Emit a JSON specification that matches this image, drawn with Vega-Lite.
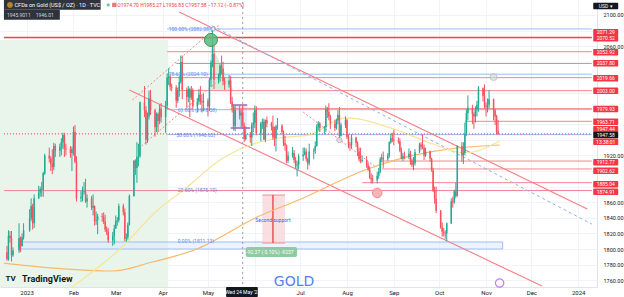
{
"$schema":"https://vega.github.io/schema/vega-lite/v6.json",
"width":597,"height":287,"padding":{"left":0,"top":0,"right":27,"bottom":10},"autosize":{"type":"none"},
"background":"#ffffff",
"config":{"view":{"stroke":null},"font":"Roboto"},
"datasets":{
"candles":[
{"d":"2022-12-19","o":1796,"h":1804,"l":1785,"c":1787},
{"d":"2022-12-20","o":1787,"h":1824,"l":1785,"c":1817},
{"d":"2022-12-21","o":1817,"h":1823,"l":1808,"c":1814},
{"d":"2022-12-22","o":1814,"h":1823,"l":1784,"c":1792},
{"d":"2022-12-23","o":1792,"h":1802,"l":1790,"c":1798},
{"d":"2022-12-27","o":1798,"h":1833,"l":1795,"c":1814},
{"d":"2022-12-28","o":1814,"h":1816,"l":1796,"c":1804},
{"d":"2022-12-29","o":1804,"h":1820,"l":1803,"c":1815},
{"d":"2022-12-30","o":1815,"h":1833,"l":1812,"c":1824},
{"d":"2023-01-03","o":1824,"h":1851,"l":1822,"c":1839},
{"d":"2023-01-04","o":1839,"h":1865,"l":1836,"c":1855},
{"d":"2023-01-05","o":1855,"h":1858,"l":1825,"c":1833},
{"d":"2023-01-06","o":1833,"h":1870,"l":1827,"c":1865},
{"d":"2023-01-09","o":1865,"h":1881,"l":1864,"c":1872},
{"d":"2023-01-10","o":1872,"h":1880,"l":1867,"c":1877},
{"d":"2023-01-11","o":1877,"h":1886,"l":1867,"c":1876},
{"d":"2023-01-12","o":1876,"h":1899,"l":1867,"c":1897},
{"d":"2023-01-13","o":1897,"h":1922,"l":1895,"c":1920},
{"d":"2023-01-16","o":1920,"h":1930,"l":1911,"c":1916},
{"d":"2023-01-17","o":1916,"h":1919,"l":1900,"c":1909},
{"d":"2023-01-18","o":1909,"h":1928,"l":1896,"c":1905},
{"d":"2023-01-19","o":1905,"h":1936,"l":1901,"c":1932},
{"d":"2023-01-20","o":1932,"h":1935,"l":1918,"c":1926},
{"d":"2023-01-23","o":1926,"h":1935,"l":1918,"c":1931},
{"d":"2023-01-24","o":1931,"h":1942,"l":1920,"c":1937},
{"d":"2023-01-25","o":1937,"h":1949,"l":1928,"c":1946},
{"d":"2023-01-26","o":1946,"h":1949,"l":1918,"c":1929},
{"d":"2023-01-27","o":1929,"h":1935,"l":1920,"c":1928},
{"d":"2023-01-30","o":1928,"h":1932,"l":1917,"c":1923},
{"d":"2023-01-31","o":1923,"h":1931,"l":1900,"c":1928},
{"d":"2023-02-01","o":1928,"h":1957,"l":1920,"c":1950},
{"d":"2023-02-02","o":1950,"h":1959,"l":1910,"c":1912},
{"d":"2023-02-03","o":1912,"h":1919,"l":1861,"c":1865},
{"d":"2023-02-06","o":1865,"h":1875,"l":1860,"c":1867},
{"d":"2023-02-07","o":1867,"h":1880,"l":1861,"c":1873},
{"d":"2023-02-08","o":1873,"h":1886,"l":1870,"c":1874},
{"d":"2023-02-09","o":1874,"h":1890,"l":1859,"c":1861},
{"d":"2023-02-10","o":1861,"h":1870,"l":1853,"c":1865},
{"d":"2023-02-13","o":1865,"h":1868,"l":1850,"c":1853},
{"d":"2023-02-14","o":1853,"h":1870,"l":1843,"c":1855},
{"d":"2023-02-15","o":1855,"h":1856,"l":1830,"c":1836},
{"d":"2023-02-16","o":1836,"h":1848,"l":1831,"c":1837},
{"d":"2023-02-17","o":1837,"h":1845,"l":1819,"c":1842},
{"d":"2023-02-20","o":1842,"h":1846,"l":1835,"c":1841},
{"d":"2023-02-21","o":1841,"h":1847,"l":1832,"c":1835},
{"d":"2023-02-22","o":1835,"h":1844,"l":1822,"c":1825},
{"d":"2023-02-23","o":1825,"h":1829,"l":1818,"c":1822},
{"d":"2023-02-24","o":1822,"h":1827,"l":1808,"c":1811},
{"d":"2023-02-27","o":1811,"h":1822,"l":1804,"c":1817},
{"d":"2023-02-28","o":1817,"h":1831,"l":1806,"c":1826},
{"d":"2023-03-01","o":1826,"h":1843,"l":1826,"c":1836},
{"d":"2023-03-02","o":1836,"h":1841,"l":1830,"c":1837},
{"d":"2023-03-03","o":1837,"h":1858,"l":1834,"c":1855},
{"d":"2023-03-06","o":1855,"h":1858,"l":1843,"c":1847},
{"d":"2023-03-07","o":1847,"h":1852,"l":1810,"c":1813},
{"d":"2023-03-08","o":1813,"h":1820,"l":1809,"c":1815},
{"d":"2023-03-09","o":1815,"h":1834,"l":1812,"c":1831},
{"d":"2023-03-10","o":1831,"h":1870,"l":1830,"c":1868},
{"d":"2023-03-13","o":1868,"h":1914,"l":1867,"c":1913},
{"d":"2023-03-14","o":1913,"h":1915,"l":1895,"c":1904},
{"d":"2023-03-15","o":1904,"h":1937,"l":1885,"c":1918},
{"d":"2023-03-16","o":1918,"h":1935,"l":1906,"c":1919},
{"d":"2023-03-17","o":1919,"h":1989,"l":1917,"c":1988},
{"d":"2023-03-20","o":1988,"h":2009,"l":1969,"c":1978},
{"d":"2023-03-21","o":1978,"h":1983,"l":1934,"c":1940},
{"d":"2023-03-22","o":1940,"h":1975,"l":1936,"c":1970},
{"d":"2023-03-23","o":1970,"h":2003,"l":1966,"c":1993},
{"d":"2023-03-24","o":1993,"h":2004,"l":1972,"c":1978},
{"d":"2023-03-27","o":1978,"h":1980,"l":1944,"c":1956},
{"d":"2023-03-28","o":1956,"h":1975,"l":1950,"c":1973},
{"d":"2023-03-29","o":1973,"h":1975,"l":1950,"c":1964},
{"d":"2023-03-30","o":1964,"h":1985,"l":1960,"c":1980},
{"d":"2023-03-31","o":1980,"h":1987,"l":1962,"c":1969},
{"d":"2023-04-03","o":1969,"h":1990,"l":1949,"c":1984},
{"d":"2023-04-04","o":1984,"h":2025,"l":1979,"c":2020},
{"d":"2023-04-05","o":2020,"h":2032,"l":2010,"c":2021},
{"d":"2023-04-06","o":2021,"h":2023,"l":2003,"c":2008},
{"d":"2023-04-07","o":2008,"h":2012,"l":2002,"c":2007},
{"d":"2023-04-10","o":2007,"h":2010,"l":1981,"c":1990},
{"d":"2023-04-11","o":1990,"h":2007,"l":1987,"c":2003},
{"d":"2023-04-12","o":2003,"h":2022,"l":1995,"c":2014},
{"d":"2023-04-13","o":2014,"h":2048,"l":2012,"c":2040},
{"d":"2023-04-14","o":2040,"h":2048,"l":1992,"c":2004},
{"d":"2023-04-17","o":2004,"h":2007,"l":1981,"c":1995},
{"d":"2023-04-18","o":1995,"h":2009,"l":1988,"c":2005},
{"d":"2023-04-19","o":2005,"h":2007,"l":1969,"c":1994},
{"d":"2023-04-20","o":1994,"h":2009,"l":1991,"c":2004},
{"d":"2023-04-21","o":2004,"h":2006,"l":1979,"c":1983},
{"d":"2023-04-24","o":1983,"h":1993,"l":1975,"c":1989},
{"d":"2023-04-25","o":1989,"h":2005,"l":1985,"c":1998},
{"d":"2023-04-26","o":1998,"h":2009,"l":1985,"c":1989},
{"d":"2023-04-27","o":1989,"h":1998,"l":1975,"c":1988},
{"d":"2023-04-28","o":1988,"h":1999,"l":1977,"c":1990},
{"d":"2023-05-01","o":1990,"h":1993,"l":1970,"c":1983},
{"d":"2023-05-02","o":1983,"h":2019,"l":1977,"c":2017},
{"d":"2023-05-03","o":2017,"h":2042,"l":2008,"c":2039},
{"d":"2023-05-04","o":2039,"h":2082,"l":2033,"c":2050},
{"d":"2023-05-05","o":2050,"h":2062,"l":2005,"c":2017},
{"d":"2023-05-08","o":2017,"h":2025,"l":2012,"c":2021},
{"d":"2023-05-09","o":2021,"h":2037,"l":2014,"c":2035},
{"d":"2023-05-10","o":2035,"h":2048,"l":2024,"c":2031},
{"d":"2023-05-11","o":2031,"h":2040,"l":2010,"c":2015},
{"d":"2023-05-12","o":2015,"h":2020,"l":2004,"c":2011},
{"d":"2023-05-15","o":2011,"h":2023,"l":2007,"c":2016},
{"d":"2023-05-16","o":2016,"h":2022,"l":1986,"c":1989},
{"d":"2023-05-17","o":1989,"h":1995,"l":1975,"c":1982},
{"d":"2023-05-18","o":1982,"h":1985,"l":1952,"c":1958},
{"d":"2023-05-19","o":1958,"h":1984,"l":1951,"c":1978},
{"d":"2023-05-22","o":1978,"h":1984,"l":1966,"c":1971},
{"d":"2023-05-23","o":1971,"h":1979,"l":1956,"c":1974.7},
{"d":"2023-05-24","o":1974.7,"h":1985.27,"l":1956.83,"c":1957.58},
{"d":"2023-05-25","o":1957.58,"h":1962,"l":1937,"c":1941},
{"d":"2023-05-26","o":1941,"h":1957,"l":1939,"c":1946},
{"d":"2023-05-29","o":1946,"h":1950,"l":1936,"c":1943},
{"d":"2023-05-30","o":1943,"h":1962,"l":1932,"c":1959},
{"d":"2023-05-31","o":1959,"h":1975,"l":1950,"c":1962},
{"d":"2023-06-01","o":1962,"h":1984,"l":1955,"c":1978},
{"d":"2023-06-02","o":1978,"h":1983,"l":1946,"c":1948},
{"d":"2023-06-05","o":1948,"h":1963,"l":1938,"c":1961},
{"d":"2023-06-06","o":1961,"h":1967,"l":1954,"c":1963},
{"d":"2023-06-07","o":1963,"h":1967,"l":1940,"c":1940},
{"d":"2023-06-08","o":1940,"h":1966,"l":1937,"c":1965},
{"d":"2023-06-09","o":1965,"h":1970,"l":1956,"c":1961},
{"d":"2023-06-12","o":1961,"h":1963,"l":1952,"c":1957},
{"d":"2023-06-13","o":1957,"h":1971,"l":1940,"c":1943},
{"d":"2023-06-14","o":1943,"h":1957,"l":1932,"c":1942},
{"d":"2023-06-15","o":1942,"h":1959,"l":1925,"c":1957},
{"d":"2023-06-16","o":1957,"h":1968,"l":1953,"c":1958},
{"d":"2023-06-19","o":1958,"h":1960,"l":1947,"c":1950},
{"d":"2023-06-20","o":1950,"h":1952,"l":1932,"c":1936},
{"d":"2023-06-21","o":1936,"h":1945,"l":1926,"c":1933},
{"d":"2023-06-22","o":1933,"h":1934,"l":1910,"c":1913},
{"d":"2023-06-23","o":1913,"h":1925,"l":1910,"c":1920},
{"d":"2023-06-26","o":1920,"h":1931,"l":1917,"c":1923},
{"d":"2023-06-27","o":1923,"h":1927,"l":1910,"c":1914},
{"d":"2023-06-28","o":1914,"h":1918,"l":1903,"c":1907},
{"d":"2023-06-29","o":1907,"h":1913,"l":1893,"c":1908},
{"d":"2023-06-30","o":1908,"h":1922,"l":1902,"c":1919},
{"d":"2023-07-03","o":1919,"h":1930,"l":1913,"c":1921},
{"d":"2023-07-04","o":1921,"h":1930,"l":1920,"c":1925},
{"d":"2023-07-05","o":1925,"h":1929,"l":1912,"c":1915},
{"d":"2023-07-06","o":1915,"h":1917,"l":1902,"c":1910},
{"d":"2023-07-07","o":1910,"h":1935,"l":1907,"c":1925},
{"d":"2023-07-10","o":1925,"h":1929,"l":1915,"c":1926},
{"d":"2023-07-11","o":1926,"h":1938,"l":1922,"c":1932},
{"d":"2023-07-12","o":1932,"h":1960,"l":1931,"c":1957},
{"d":"2023-07-13","o":1957,"h":1964,"l":1952,"c":1961},
{"d":"2023-07-14","o":1961,"h":1963,"l":1950,"c":1955},
{"d":"2023-07-17","o":1955,"h":1958,"l":1947,"c":1956},
{"d":"2023-07-18","o":1956,"h":1984,"l":1950,"c":1979},
{"d":"2023-07-19","o":1979,"h":1982,"l":1968,"c":1976},
{"d":"2023-07-20","o":1976,"h":1987,"l":1965,"c":1970},
{"d":"2023-07-21","o":1970,"h":1972,"l":1954,"c":1961},
{"d":"2023-07-24","o":1961,"h":1966,"l":1951,"c":1955},
{"d":"2023-07-25","o":1955,"h":1967,"l":1953,"c":1965},
{"d":"2023-07-26","o":1965,"h":1978,"l":1960,"c":1972},
{"d":"2023-07-27","o":1972,"h":1982,"l":1942,"c":1945},
{"d":"2023-07-28","o":1945,"h":1962,"l":1944,"c":1959},
{"d":"2023-07-31","o":1959,"h":1970,"l":1955,"c":1965},
{"d":"2023-08-01","o":1965,"h":1967,"l":1941,"c":1944},
{"d":"2023-08-02","o":1944,"h":1947,"l":1929,"c":1934},
{"d":"2023-08-03","o":1934,"h":1937,"l":1926,"c":1933},
{"d":"2023-08-04","o":1933,"h":1947,"l":1929,"c":1943},
{"d":"2023-08-07","o":1943,"h":1944,"l":1931,"c":1936},
{"d":"2023-08-08","o":1936,"h":1938,"l":1919,"c":1925},
{"d":"2023-08-09","o":1925,"h":1930,"l":1912,"c":1915},
{"d":"2023-08-10","o":1915,"h":1930,"l":1910,"c":1913},
{"d":"2023-08-11","o":1913,"h":1920,"l":1911,"c":1914},
{"d":"2023-08-14","o":1914,"h":1919,"l":1904,"c":1907},
{"d":"2023-08-15","o":1907,"h":1911,"l":1900,"c":1902},
{"d":"2023-08-16","o":1902,"h":1906,"l":1890,"c":1891},
{"d":"2023-08-17","o":1891,"h":1897,"l":1884,"c":1889},
{"d":"2023-08-18","o":1889,"h":1895,"l":1884,"c":1888},
{"d":"2023-08-21","o":1888,"h":1899,"l":1884,"c":1894},
{"d":"2023-08-22","o":1894,"h":1904,"l":1890,"c":1899},
{"d":"2023-08-23","o":1899,"h":1918,"l":1897,"c":1915},
{"d":"2023-08-24","o":1915,"h":1922,"l":1911,"c":1917},
{"d":"2023-08-25","o":1917,"h":1925,"l":1904,"c":1915},
{"d":"2023-08-28","o":1915,"h":1923,"l":1913,"c":1920},
{"d":"2023-08-29","o":1920,"h":1938,"l":1917,"c":1937},
{"d":"2023-08-30","o":1937,"h":1948,"l":1935,"c":1942},
{"d":"2023-08-31","o":1942,"h":1949,"l":1937,"c":1940},
{"d":"2023-09-01","o":1940,"h":1953,"l":1933,"c":1939},
{"d":"2023-09-04","o":1939,"h":1943,"l":1935,"c":1938},
{"d":"2023-09-05","o":1938,"h":1942,"l":1924,"c":1926},
{"d":"2023-09-06","o":1926,"h":1930,"l":1915,"c":1916},
{"d":"2023-09-07","o":1916,"h":1923,"l":1913,"c":1919},
{"d":"2023-09-08","o":1919,"h":1925,"l":1915,"c":1918},
{"d":"2023-09-11","o":1918,"h":1929,"l":1915,"c":1922},
{"d":"2023-09-12","o":1922,"h":1926,"l":1908,"c":1913},
{"d":"2023-09-13","o":1913,"h":1916,"l":1905,"c":1908},
{"d":"2023-09-14","o":1908,"h":1918,"l":1901,"c":1910},
{"d":"2023-09-15","o":1910,"h":1928,"l":1907,"c":1924},
{"d":"2023-09-18","o":1924,"h":1936,"l":1923,"c":1934},
{"d":"2023-09-19","o":1934,"h":1937,"l":1927,"c":1931},
{"d":"2023-09-20","o":1931,"h":1947,"l":1928,"c":1930},
{"d":"2023-09-21","o":1930,"h":1934,"l":1914,"c":1920},
{"d":"2023-09-22","o":1920,"h":1930,"l":1918,"c":1925},
{"d":"2023-09-25","o":1925,"h":1926,"l":1912,"c":1916},
{"d":"2023-09-26","o":1916,"h":1917,"l":1899,"c":1901},
{"d":"2023-09-27","o":1901,"h":1904,"l":1873,"c":1875},
{"d":"2023-09-28","o":1875,"h":1880,"l":1858,"c":1864},
{"d":"2023-09-29","o":1864,"h":1880,"l":1846,"c":1849},
{"d":"2023-10-02","o":1849,"h":1850,"l":1826,"c":1828},
{"d":"2023-10-03","o":1828,"h":1834,"l":1816,"c":1822},
{"d":"2023-10-04","o":1822,"h":1827,"l":1816,"c":1821},
{"d":"2023-10-05","o":1821,"h":1824,"l":1813,"c":1820},
{"d":"2023-10-06","o":1820,"h":1834,"l":1810,"c":1833},
{"d":"2023-10-09","o":1833,"h":1865,"l":1832,"c":1861},
{"d":"2023-10-10","o":1861,"h":1867,"l":1853,"c":1860},
{"d":"2023-10-11","o":1860,"h":1876,"l":1858,"c":1874},
{"d":"2023-10-12","o":1874,"h":1885,"l":1865,"c":1868},
{"d":"2023-10-13","o":1868,"h":1933,"l":1867,"c":1932},
{"d":"2023-10-16","o":1932,"h":1937,"l":1912,"c":1920},
{"d":"2023-10-17","o":1920,"h":1937,"l":1909,"c":1923},
{"d":"2023-10-18","o":1923,"h":1962,"l":1920,"c":1948},
{"d":"2023-10-19","o":1948,"h":1979,"l":1945,"c":1974},
{"d":"2023-10-20","o":1974,"h":1997,"l":1965,"c":1981},
{"d":"2023-10-23","o":1981,"h":1985,"l":1960,"c":1973},
{"d":"2023-10-24","o":1973,"h":1976,"l":1954,"c":1970},
{"d":"2023-10-25","o":1970,"h":1983,"l":1962,"c":1979},
{"d":"2023-10-26","o":1979,"h":1990,"l":1970,"c":1985},
{"d":"2023-10-27","o":1985,"h":2009,"l":1976,"c":2006},
{"d":"2023-10-30","o":2006,"h":2007,"l":1989,"c":1996},
{"d":"2023-10-31","o":1996,"h":2011,"l":1980,"c":1983},
{"d":"2023-11-01","o":1983,"h":1988,"l":1970,"c":1982},
{"d":"2023-11-02","o":1982,"h":1993,"l":1975,"c":1985},
{"d":"2023-11-03","o":1985,"h":2004,"l":1980,"c":1992},
{"d":"2023-11-06","o":1992,"h":1993,"l":1965,"c":1978},
{"d":"2023-11-07","o":1978,"h":1980,"l":1959,"c":1970},
{"d":"2023-11-08","o":1970,"h":1972,"l":1947,"c":1950},
{"d":"2023-11-09","o":1950.7,"h":1965.27,"l":1946.83,"c":1947.58}
],
"seg":[
{"a":"2022-12-17","b":"2024-01-10","p":2071.29,"q":2071.29,"k":"R"},
{"a":"2022-12-17","b":"2024-01-10","p":2070.52,"q":2070.52,"k":"r"},
{"a":"2023-04-04","b":"2024-01-10","p":2052.92,"q":2052.92,"k":"r"},
{"a":"2023-04-10","b":"2024-01-10","p":2037.8,"q":2037.8,"k":"r"},
{"a":"2023-04-04","b":"2024-01-10","p":2019.66,"q":2019.66,"k":"r"},
{"a":"2023-04-10","b":"2024-01-10","p":2003,"q":2003,"k":"r"},
{"a":"2023-05-16","b":"2024-01-10","p":1979.93,"q":1979.93,"k":"r"},
{"a":"2023-10-18","b":"2024-01-10","p":1963.71,"q":1963.71,"k":"r"},
{"a":"2023-08-24","b":"2024-01-10","p":1912.77,"q":1912.77,"k":"r"},
{"a":"2023-08-24","b":"2024-01-10","p":1902.62,"q":1902.62,"k":"r"},
{"a":"2023-08-11","b":"2024-01-10","p":1885.04,"q":1885.04,"k":"r"},
{"a":"2022-12-17","b":"2024-01-10","p":1874.91,"q":1874.91,"k":"r"},
{"a":"2023-04-04","b":"2024-01-10","p":2082.08,"q":2082.08,"k":"b"},
{"a":"2023-04-04","b":"2024-01-10","p":2024.1,"q":2024.1,"k":"b"},
{"a":"2023-04-04","b":"2024-01-10","p":1978.58,"q":1978.58,"k":"b"},
{"a":"2023-04-04","b":"2024-01-10","p":1946.62,"q":1946.62,"k":"b"},
{"a":"2023-04-04","b":"2024-01-10","p":1875.1,"q":1875.1,"k":"b"},
{"a":"2022-12-17","b":"2024-01-10","p":1947.58,"q":1947.58,"k":"cur"},
{"a":"2023-04-12","b":"2024-01-07","p":2103.8,"q":1851.3,"k":"ch"},
{"a":"2023-03-10","b":"2023-12-08","p":2003.8,"q":1752.6,"k":"ch"},
{"a":"2023-05-04","b":"2024-01-10","p":2085.9,"q":1832,"k":"bd"},
{"a":"2023-03-12","b":"2023-05-09","p":1991,"q":2088.5,"k":"rd"},
{"a":"2023-03-18","b":"2023-05-06","p":1932.1,"q":2012.8,"k":"rd"},
{"a":"2023-07-03","b":"2023-08-20","p":1975.6,"q":1905.1,"k":"rd"},
{"a":"2023-05-24","b":"2023-05-24","p":2200,"q":1700,"k":"g"},
{"a":"2023-05-17","b":"2023-05-27","p":1984.6,"q":1984.6,"k":"p"},
{"a":"2023-05-16","b":"2023-05-29","p":1955.1,"q":1955.1,"k":"p"},
{"a":"2023-06-13","b":"2023-06-13","p":1869.2,"q":1807.7,"k":"R"},
{"a":"2023-06-06","b":"2023-06-21","p":1869.2,"q":1869.2,"k":"r"},
{"a":"2023-06-06","b":"2023-06-21","p":1807.7,"q":1807.7,"k":"r"}
],
"box":[
{"a":"2022-12-10","b":"2023-04-04T16:00:00Z","p":2067.9,"q":1700,"k":"bg"},
{"a":"2022-12-27","b":"2023-11-12","p":1809,"q":1800,"k":"fib0"},
{"a":"2023-05-17","b":"2023-05-27","p":1984.6,"q":1955.1,"k":"pur"},
{"a":"2023-06-06","b":"2023-06-21","p":1869.2,"q":1807.7,"k":"sup"},
{"a":"2023-05-26","b":"2023-06-29","p":1802.6,"q":1789.7,"k":"glab"},
{"a":"2023-05-13","b":"2023-06-03","p":1751.3,"q":1738.5,"k":"xlab"},
{"a":"2022-12-17","b":"2023-02-19","p":2119.2,"q":2106.6,"k":"lgbox"},
{"a":"2022-12-17","b":"2023-01-23","p":2106.6,"q":2093.8,"k":"lgbox"}
],
"tri":[
{"d":"2023-05-02T16:00:00Z","t":2064.1,"u":2003.8},
{"d":"2023-05-17T12:00:00Z","t":2003.8,"u":2003.8}
],
"ma":[
{"d":"2022-12-17","v":1782,"s":"o"},
{"d":"2023-01-19","v":1775.6,"s":"o"},
{"d":"2023-02-27","v":1771.8,"s":"o"},
{"d":"2023-03-25","v":1783.3,"s":"o"},
{"d":"2023-04-22","v":1798.7,"s":"o"},
{"d":"2023-06-04","v":1842.3,"s":"o"},
{"d":"2023-06-30","v":1862.8,"s":"o"},
{"d":"2023-08-13","v":1901.3,"s":"o"},
{"d":"2023-09-25","v":1924.4,"s":"o"},
{"d":"2023-10-13","v":1929.5,"s":"o"},
{"d":"2023-11-10","v":1933.3,"s":"o"},
{"d":"2023-01-22","v":1738.5,"s":"y"},
{"d":"2023-03-03","v":1798.7,"s":"y"},
{"d":"2023-03-31","v":1853.8,"s":"y"},
{"d":"2023-04-15","v":1875.6,"s":"y"},
{"d":"2023-05-09","v":1914.1,"s":"y"},
{"d":"2023-05-29","v":1933.3,"s":"y"},
{"d":"2023-06-17","v":1942.3,"s":"y"},
{"d":"2023-07-07","v":1946.2,"s":"y"},
{"d":"2023-07-31","v":1968.1,"s":"y"},
{"d":"2023-09-03","v":1952.6,"s":"y"},
{"d":"2023-09-25","v":1935.9,"s":"y"},
{"d":"2023-10-18","v":1923.1,"s":"y"},
{"d":"2023-11-10","v":1938.5,"s":"y"}
],
"pt":[
{"d":"2023-05-03","v":2068,"k":"gc"},
{"d":"2023-08-21","v":1871.8,"k":"pc"},
{"d":"2023-11-06","v":2020.5,"k":"gy"},
{"d":"2023-07-27","v":1939.7,"k":"gs"},
{"d":"2023-05-04T10:00:00Z","v":2082.08,"k":"wc"},
{"d":"2023-11-10","v":1756.4,"k":"pp"},
{"d":"2022-12-21","v":2112.9,"k":"ic"},
{"d":"2023-02-24","v":2112.9,"k":"gd"},
{"d":"2023-02-28","v":2112.9,"k":"rs"}
],
"tx":[
{"d":"2023-04-05","v":2082.08,"t":"100.00% (2082.08)","k":"fib"},
{"d":"2023-04-05","v":2024.1,"t":"78.60% (2024.10)","k":"fib"},
{"d":"2023-04-11","v":1978.58,"t":"61.80% (1978.58)","k":"fib"},
{"d":"2023-04-10","v":1946.62,"t":"50.00% (1946.62)","k":"fib"},
{"d":"2023-04-11","v":1875.1,"t":"23.60% (1875.10)","k":"fib"},
{"d":"2023-04-11","v":1810,"t":"0.00% (1811.13)","k":"fib"},
{"d":"2023-06-13","v":1837.5,"t":"Second support","k":"sup"},
{"d":"2023-06-11","v":1796.2,"t":"-92.37 (-5.10%) -9237","k":"glab"},
{"d":"2023-06-27","v":1757.7,"t":"GOLD","k":"gold"},
{"d":"2022-12-29","v":1761.5,"t":"TradingView","k":"tv"},
{"d":"2022-12-18","v":1761.5,"t":"TV","k":"tvi"},
{"d":"2023-05-24","v":1744.9,"t":"Wed 24 May '23","k":"xl"},
{"d":"2022-12-24","v":2112.9,"t":"CFDs on Gold (US$ / OZ) · 1D · TVC","k":"lg"},
{"d":"2023-03-02","v":2112.9,"t":"O1974.70 H1985.27 L1956.83 C1957.58 −17.12 (−0.87%)","k":"ohlc"},
{"d":"2022-12-19","v":2100.2,"t":"1945.90","k":"lb"},
{"d":"2022-12-31","v":2100.2,"t":"11","k":"lb"},
{"d":"2023-01-07","v":2100.2,"t":"1946.01","k":"lb"}
],
"rl":[
{"t":"2071.29","p":2077.8,"k":"r"},
{"t":"2070.52","p":2070.1,"k":"r"},
{"t":"2052.92","p":2052.2,"k":"r"},
{"t":"2037.80","p":2038.1,"k":"r"},
{"t":"2019.66","p":2018.8,"k":"r"},
{"t":"2003.00","p":2002.9,"k":"r"},
{"t":"1979.93","p":1979.5,"k":"r"},
{"t":"1963.71","p":1963.2,"k":"r"},
{"t":"1947.44","p":1953.5,"k":"r"},
{"t":"1947.58","p":1946.2,"k":"d"},
{"t":"13:38:01","p":1937.6,"k":"r"},
{"t":"1912.77","p":1911.2,"k":"r"},
{"t":"1902.62","p":1900.4,"k":"r"},
{"t":"1885.04","p":1883,"k":"r"},
{"t":"1874.91","p":1873.5,"k":"r"},
{"t":"USD ▾","p":2111.5,"k":"d"}
]
},
"layer":[
{"data":{"name":"box"},"transform":[{"filter":"datum.k=='bg'"}],
 "mark":{"type":"rect","fill":"#e9f5eb","clip":true},
 "encoding":{
  "x":{"field":"a","type":"temporal","scale":{"type":"utc","domain":[{"year":2022,"month":12,"date":17,"hours":17,"utc":true},{"year":2024,"month":1,"date":10,"hours":3,"utc":true}]},
   "axis":{"orient":"bottom","title":null,"domain":true,"domainColor":"#e0e3eb","ticks":false,"tickSize":0,"tickCount":40,"grid":true,"gridColor":"#f0f3fa","labelFontSize":6,"labelColor":"#131722","labelPadding":2,"labelFont":"Roboto","labelOverlap":false,
    "values":[{"year":2023,"month":1,"date":1,"utc":true},{"year":2023,"month":2,"date":1,"utc":true},{"year":2023,"month":3,"date":1,"utc":true},{"year":2023,"month":4,"date":1,"utc":true},{"year":2023,"month":5,"date":1,"utc":true},{"year":2023,"month":6,"date":1,"utc":true},{"year":2023,"month":7,"date":1,"utc":true},{"year":2023,"month":8,"date":1,"utc":true},{"year":2023,"month":9,"date":1,"utc":true},{"year":2023,"month":10,"date":1,"utc":true},{"year":2023,"month":11,"date":1,"utc":true},{"year":2023,"month":12,"date":1,"utc":true},{"year":2024,"month":1,"date":1,"utc":true}],
    "labelExpr":"utcFormat(datum.value,'%m')=='06' ? '' : (utcFormat(datum.value,'%m')=='01' ? utcFormat(datum.value,'%Y') : utcFormat(datum.value,'%b'))"}},
  "x2":{"field":"b"},
  "y":{"field":"p","type":"quantitative","scale":{"domain":[1751.3,2119.2],"nice":false,"zero":false},
   "axis":{"orient":"right","title":null,"domain":true,"domainColor":"#e0e3eb","ticks":false,"tickSize":0,"tickCount":40,"grid":true,"gridColor":"#f0f3fa","labelFontSize":5.5,"labelColor":"#131722","labelPadding":6,"labelAlign":"left","labelBaseline":"middle","labelFont":"Roboto","labelOverlap":false,"labelBound":false,"labelFlush":false,
    "values":[1760,1780,1800,1820,1840,1860,1880,1900,1920,1940,1960,1980,2000,2020,2040,2060,2080,2100],
    "labelExpr":"(datum.value==2100 || datum.value==2060 || datum.value==1920 || datum.value<=1860) ? format(datum.value,'.2f') : ''"}},
  "y2":{"field":"q"}}},
{"data":{"name":"box"},"transform":[{"filter":"datum.k=='fib0'"}],
 "mark":{"type":"rect","fill":"#dce8fc","fillOpacity":0.5,"stroke":"#9fbef2","strokeWidth":1},
 "encoding":{"x":{"field":"a","type":"temporal"},"x2":{"field":"b"},"y":{"field":"p","type":"quantitative"},"y2":{"field":"q"}}},
{"data":{"name":"box"},"transform":[{"filter":"datum.k=='pur'"}],
 "mark":{"type":"rect","fill":"#c9dcf7","fillOpacity":0.55},
 "encoding":{"x":{"field":"a","type":"temporal"},"x2":{"field":"b"},"y":{"field":"p","type":"quantitative"},"y2":{"field":"q"}}},
{"data":{"name":"box"},"transform":[{"filter":"datum.k=='sup'"}],
 "mark":{"type":"rect","fill":"#f8d7da","fillOpacity":0.8},
 "encoding":{"x":{"field":"a","type":"temporal"},"x2":{"field":"b"},"y":{"field":"p","type":"quantitative"},"y2":{"field":"q"}}},
{"data":{"name":"tri"},
 "mark":{"type":"area","fill":"#bfe8c9","fillOpacity":0.7},
 "encoding":{"x":{"field":"d","type":"temporal"},"y":{"field":"t","type":"quantitative"},"y2":{"field":"u"}}},
{"data":{"name":"seg"},"transform":[{"filter":"datum.k=='b'"}],
 "mark":{"type":"rule","stroke":"#9dbcf2","strokeWidth":1,"clip":true},
 "encoding":{"x":{"field":"a","type":"temporal"},"x2":{"field":"b"},"y":{"field":"p","type":"quantitative"},"y2":{"field":"q"}}},
{"data":{"name":"seg"},"transform":[{"filter":"datum.k=='r'"}],
 "mark":{"type":"rule","stroke":"#f6868c","strokeWidth":1,"clip":true},
 "encoding":{"x":{"field":"a","type":"temporal"},"x2":{"field":"b"},"y":{"field":"p","type":"quantitative"},"y2":{"field":"q"}}},
{"data":{"name":"seg"},"transform":[{"filter":"datum.k=='R'"}],
 "mark":{"type":"rule","stroke":"#f0444f","strokeWidth":1.4,"clip":true},
 "encoding":{"x":{"field":"a","type":"temporal"},"x2":{"field":"b"},"y":{"field":"p","type":"quantitative"},"y2":{"field":"q"}}},
{"data":{"name":"seg"},"transform":[{"filter":"datum.k=='ch'"}],
 "mark":{"type":"rule","stroke":"#f47f85","strokeWidth":1.1,"clip":true},
 "encoding":{"x":{"field":"a","type":"temporal"},"x2":{"field":"b"},"y":{"field":"p","type":"quantitative"},"y2":{"field":"q"}}},
{"data":{"name":"seg"},"transform":[{"filter":"datum.k=='bd'"}],
 "mark":{"type":"rule","stroke":"#8fb0ee","strokeWidth":1,"strokeDash":[3,3],"clip":true},
 "encoding":{"x":{"field":"a","type":"temporal"},"x2":{"field":"b"},"y":{"field":"p","type":"quantitative"},"y2":{"field":"q"}}},
{"data":{"name":"seg"},"transform":[{"filter":"datum.k=='rd'"}],
 "mark":{"type":"rule","stroke":"#f4868c","strokeWidth":1,"strokeDash":[2,2],"clip":true},
 "encoding":{"x":{"field":"a","type":"temporal"},"x2":{"field":"b"},"y":{"field":"p","type":"quantitative"},"y2":{"field":"q"}}},
{"data":{"name":"seg"},"transform":[{"filter":"datum.k=='g'"}],
 "mark":{"type":"rule","stroke":"#9598a1","strokeWidth":1,"strokeDash":[2,3],"clip":true},
 "encoding":{"x":{"field":"a","type":"temporal"},"x2":{"field":"b"},"y":{"field":"p","type":"quantitative"},"y2":{"field":"q"}}},
{"data":{"name":"seg"},"transform":[{"filter":"datum.k=='p'"}],
 "mark":{"type":"rule","stroke":"#7e57c2","strokeWidth":1.3,"clip":true},
 "encoding":{"x":{"field":"a","type":"temporal"},"x2":{"field":"b"},"y":{"field":"p","type":"quantitative"},"y2":{"field":"q"}}},
{"data":{"name":"ma"},"transform":[{"filter":"datum.s=='o'"}],
 "mark":{"type":"line","interpolate":"monotone","strokeWidth":1.2,"stroke":"#f7b96a","clip":true},
 "encoding":{"x":{"field":"d","type":"temporal"},"y":{"field":"v","type":"quantitative"}}},
{"data":{"name":"ma"},"transform":[{"filter":"datum.s=='y'"}],
 "mark":{"type":"line","interpolate":"monotone","strokeWidth":1.2,"stroke":"#f6e596","clip":true},
 "encoding":{"x":{"field":"d","type":"temporal"},"y":{"field":"v","type":"quantitative"}}},
{"data":{"name":"seg"},"transform":[{"filter":"datum.k=='cur'"}],
 "mark":{"type":"rule","stroke":"#f23645","strokeWidth":1,"strokeDash":[1,2],"clip":true},
 "encoding":{"x":{"field":"a","type":"temporal"},"x2":{"field":"b"},"y":{"field":"p","type":"quantitative"},"y2":{"field":"q"}}},
{"data":{"name":"candles"},
 "mark":{"type":"rule","strokeWidth":1},
 "encoding":{"x":{"field":"d","type":"temporal"},"y":{"field":"l","type":"quantitative"},"y2":{"field":"h"},
  "color":{"condition":{"test":"datum.c >= datum.o","value":"#22ab94"},"value":"#f7525f"}}},
{"data":{"name":"candles"},
 "mark":{"type":"bar","width":1.5},
 "encoding":{"x":{"field":"d","type":"temporal"},"y":{"field":"o","type":"quantitative"},"y2":{"field":"c"},
  "color":{"condition":{"test":"datum.c >= datum.o","value":"#22ab94"},"value":"#f7525f"}}},
{"data":{"name":"box"},"transform":[{"filter":"datum.k=='glab'"}],
 "mark":{"type":"rect","fill":"#8fcaa0","cornerRadius":2},
 "encoding":{"x":{"field":"a","type":"temporal"},"x2":{"field":"b"},"y":{"field":"p","type":"quantitative"},"y2":{"field":"q"}}},
{"data":{"name":"box"},"transform":[{"filter":"datum.k=='xlab'"}],
 "mark":{"type":"rect","fill":"#131722","cornerRadius":1},
 "encoding":{"x":{"field":"a","type":"temporal"},"x2":{"field":"b"},"y":{"field":"p","type":"quantitative"},"y2":{"field":"q"}}},
{"data":{"name":"box"},"transform":[{"filter":"datum.k=='lgbox'"}],
 "mark":{"type":"rect","fill":"#1e222d","fillOpacity":0.92},
 "encoding":{"x":{"field":"a","type":"temporal"},"x2":{"field":"b"},"y":{"field":"p","type":"quantitative"},"y2":{"field":"q"}}},
{"data":{"name":"pt"},"transform":[{"filter":"datum.k=='gc'"}],
 "mark":{"type":"point","shape":"circle","filled":true,"size":170,"fill":"#5fb57e","fillOpacity":0.85,"stroke":"#3e9a60","strokeWidth":1},
 "encoding":{"x":{"field":"d","type":"temporal"},"y":{"field":"v","type":"quantitative"}}},
{"data":{"name":"pt"},"transform":[{"filter":"datum.k=='pc'"}],
 "mark":{"type":"point","shape":"circle","filled":true,"size":90,"fill":"#f5aeb0","fillOpacity":0.9,"stroke":"#ee8a8f","strokeWidth":1},
 "encoding":{"x":{"field":"d","type":"temporal"},"y":{"field":"v","type":"quantitative"}}},
{"data":{"name":"pt"},"transform":[{"filter":"datum.k=='gy'"}],
 "mark":{"type":"point","shape":"circle","filled":true,"size":50,"fill":"#d6d8de","stroke":"#b2b5be","strokeWidth":1},
 "encoding":{"x":{"field":"d","type":"temporal"},"y":{"field":"v","type":"quantitative"}}},
{"data":{"name":"pt"},"transform":[{"filter":"datum.k=='gs'"}],
 "mark":{"type":"point","shape":"circle","filled":true,"size":28,"fill":"#d6d8de","stroke":"#a0a3ab","strokeWidth":1},
 "encoding":{"x":{"field":"d","type":"temporal"},"y":{"field":"v","type":"quantitative"}}},
{"data":{"name":"pt"},"transform":[{"filter":"datum.k=='wc'"}],
 "mark":{"type":"point","shape":"circle","filled":true,"size":18,"fill":"#ffffff","stroke":"#5b8def","strokeWidth":1},
 "encoding":{"x":{"field":"d","type":"temporal"},"y":{"field":"v","type":"quantitative"}}},
{"data":{"name":"pt"},"transform":[{"filter":"datum.k=='pp'"}],
 "mark":{"type":"point","shape":"circle","filled":false,"size":70,"stroke":"#b04cd6","strokeWidth":1.2,"clip":false},
 "encoding":{"x":{"field":"d","type":"temporal"},"y":{"field":"v","type":"quantitative"}}},
{"data":{"name":"pt"},"transform":[{"filter":"datum.k=='ic'"}],
 "mark":{"type":"point","shape":"circle","filled":true,"size":32,"fill":"#f0a81c"},
 "encoding":{"x":{"field":"d","type":"temporal"},"y":{"field":"v","type":"quantitative"}}},
{"data":{"name":"pt"},"transform":[{"filter":"datum.k=='gd'"}],
 "mark":{"type":"point","shape":"circle","filled":true,"size":10,"fill":"#22ab94"},
 "encoding":{"x":{"field":"d","type":"temporal"},"y":{"field":"v","type":"quantitative"}}},
{"data":{"name":"pt"},"transform":[{"filter":"datum.k=='rs'"}],
 "mark":{"type":"point","shape":"square","filled":true,"size":18,"fill":"#f23645"},
 "encoding":{"x":{"field":"d","type":"temporal"},"y":{"field":"v","type":"quantitative"}}},
{"data":{"name":"tx"},"transform":[{"filter":"datum.k=='fib'"}],
 "mark":{"type":"text","align":"left","baseline":"middle","fontSize":5,"color":"#5b8def","font":"Roboto"},
 "encoding":{"x":{"field":"d","type":"temporal"},"y":{"field":"v","type":"quantitative"},"text":{"field":"t"}}},
{"data":{"name":"tx"},"transform":[{"filter":"datum.k=='sup'"}],
 "mark":{"type":"text","align":"center","baseline":"middle","fontSize":5,"color":"#2962ff","font":"Roboto"},
 "encoding":{"x":{"field":"d","type":"temporal"},"y":{"field":"v","type":"quantitative"},"text":{"field":"t"}}},
{"data":{"name":"tx"},"transform":[{"filter":"datum.k=='glab'"}],
 "mark":{"type":"text","align":"center","baseline":"middle","fontSize":5,"color":"#ffffff","font":"Roboto"},
 "encoding":{"x":{"field":"d","type":"temporal"},"y":{"field":"v","type":"quantitative"},"text":{"field":"t"}}},
{"data":{"name":"tx"},"transform":[{"filter":"datum.k=='gold'"}],
 "mark":{"type":"text","align":"center","baseline":"middle","fontSize":14,"fontWeight":"normal","color":"#5a7ff0","font":"DejaVu Sans"},
 "encoding":{"x":{"field":"d","type":"temporal"},"y":{"field":"v","type":"quantitative"},"text":{"field":"t"}}},
{"data":{"name":"tx"},"transform":[{"filter":"datum.k=='tv'"}],
 "mark":{"type":"text","align":"left","baseline":"middle","fontSize":9,"fontWeight":"bold","color":"#131722","font":"Roboto"},
 "encoding":{"x":{"field":"d","type":"temporal"},"y":{"field":"v","type":"quantitative"},"text":{"field":"t"}}},
{"data":{"name":"tx"},"transform":[{"filter":"datum.k=='tvi'"}],
 "mark":{"type":"text","align":"left","baseline":"middle","fontSize":8,"fontWeight":"bold","color":"#131722","font":"Roboto"},
 "encoding":{"x":{"field":"d","type":"temporal"},"y":{"field":"v","type":"quantitative"},"text":{"field":"t"}}},
{"data":{"name":"tx"},"transform":[{"filter":"datum.k=='xl'"}],
 "mark":{"type":"text","align":"center","baseline":"middle","fontSize":5,"color":"#ffffff","font":"Roboto","clip":false},
 "encoding":{"x":{"field":"d","type":"temporal"},"y":{"field":"v","type":"quantitative"},"text":{"field":"t"}}},
{"data":{"name":"tx"},"transform":[{"filter":"datum.k=='lg'"}],
 "mark":{"type":"text","align":"left","baseline":"middle","fontSize":5.5,"color":"#ffffff","font":"Roboto"},
 "encoding":{"x":{"field":"d","type":"temporal"},"y":{"field":"v","type":"quantitative"},"text":{"field":"t"}}},
{"data":{"name":"tx"},"transform":[{"filter":"datum.k=='ohlc'"}],
 "mark":{"type":"text","align":"left","baseline":"middle","fontSize":5,"color":"#f23645","font":"Roboto"},
 "encoding":{"x":{"field":"d","type":"temporal"},"y":{"field":"v","type":"quantitative"},"text":{"field":"t"}}},
{"data":{"name":"tx"},"transform":[{"filter":"datum.k=='lb'"}],
 "mark":{"type":"text","align":"left","baseline":"middle","fontSize":5,"color":"#d1d4dc","font":"Roboto"},
 "encoding":{"x":{"field":"d","type":"temporal"},"y":{"field":"v","type":"quantitative"},"text":{"field":"t"}}},
{"data":{"name":"rl"},
 "mark":{"type":"rect","width":25,"height":6.5,"cornerRadius":1,"clip":false},
 "encoding":{"x":{"datum":{"year":2024,"month":1,"date":19,"hours":5,"utc":true},"type":"temporal"},"y":{"field":"p","type":"quantitative"},
  "color":{"condition":{"test":"datum.k=='d'","value":"#131722"},"value":"#f23645"}}},
{"data":{"name":"rl"},
 "mark":{"type":"text","align":"center","baseline":"middle","fontSize":5,"color":"#ffffff","font":"Roboto","clip":false},
 "encoding":{"x":{"datum":{"year":2024,"month":1,"date":19,"hours":5,"utc":true},"type":"temporal"},"y":{"field":"p","type":"quantitative"},"text":{"field":"t"}}}
]
}
